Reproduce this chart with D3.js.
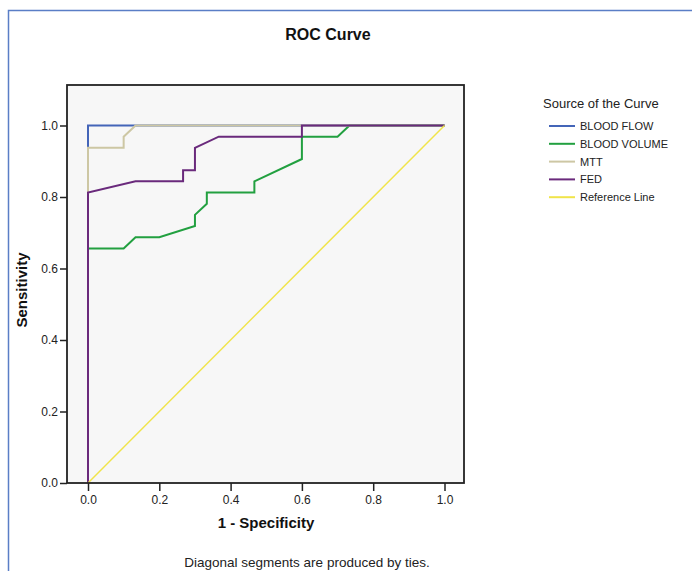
<!DOCTYPE html>
<html><head><meta charset="utf-8">
<script src="https://cdn.jsdelivr.net/npm/d3@7/dist/d3.min.js"></script>
<style>body{margin:0;background:#fff;}svg{display:block;font-family:"Liberation Sans",Arial,sans-serif;}</style>
</head><body>
<svg id="c" width="692" height="571"></svg>
<script>
const seriesNames = ["BLOOD FLOW","BLOOD VOLUME","MTT","FED"];
const seriesColors = ["#4465b8","#22a040","#cdc7a4","#6a2a7c"];
const refColor = "#f0e44a";
const bloodFlow = [[0,0],[0,1],[1,1]];
const bloodVolume = [[0,0],[0,0.65625],[0.1,0.65625],[0.1333,0.6875],[0.2,0.6875],[0.3,0.71875],[0.3,0.75],[0.3333,0.78125],[0.3333,0.8125],[0.4667,0.8125],[0.4667,0.84375],[0.6,0.90625],[0.6,0.96875],[0.7,0.96875],[0.7333,1],[1,1]];
const mtt = [[0,0],[0,0.9375],[0.1,0.9375],[0.1,0.96875],[0.1333,1],[1,1]];
const fed = [[0,0],[0,0.8125],[0.1333,0.84375],[0.2667,0.84375],[0.2667,0.875],[0.3,0.875],[0.3,0.9375],[0.3667,0.96875],[0.6,0.96875],[0.6,1],[1,1]];
const refLine = [[0,0],[1,1]];
const tickValues = [0,0.2,0.4,0.6,0.8,1.0];

const svg = d3.select("#c");
svg.append("rect").attr("x",8.5).attr("y",10.5).attr("width",700).attr("height",600)
  .attr("fill","none").attr("stroke","#5a7ec6").attr("stroke-width",1.5);

const x = d3.scaleLinear().domain([0,1]).range([88,444.5]);
const y = d3.scaleLinear().domain([0,1]).range([483,125.5]);
const L=67, R=464, T=85, B=483;

svg.append("rect").attr("x",L).attr("y",T).attr("width",R-L).attr("height",B-T).attr("fill","#f7f7f7");

const line = d3.line().x(d=>x(d[0])).y(d=>y(d[1]));
const all = [bloodFlow,bloodVolume,mtt,fed];
all.forEach((s,i)=>{
  svg.append("path").attr("d",line(s)).attr("fill","none").attr("stroke",seriesColors[i])
    .attr("stroke-width",2).attr("stroke-linejoin","miter");
});
svg.append("path").attr("d",line(refLine)).attr("fill","none").attr("stroke",refColor).attr("stroke-width",1.5);

svg.append("rect").attr("x",L).attr("y",T).attr("width",R-L).attr("height",B-T)
  .attr("fill","none").attr("stroke","#222").attr("stroke-width",1.8);

const ya = svg.append("g").attr("transform",`translate(${L},0)`)
  .call(d3.axisLeft(y).tickValues(tickValues).tickFormat(d3.format(".1f")).tickSize(7).tickPadding(2).tickSizeOuter(0));
ya.select(".domain").remove();
ya.selectAll("line").attr("stroke","#222").attr("stroke-width",1.5);
ya.selectAll("text").attr("font-size",12).attr("fill","#222").attr("font-family","Liberation Sans, Arial");

const xa = svg.append("g").attr("transform",`translate(0,${B})`)
  .call(d3.axisBottom(x).tickValues(tickValues).tickFormat(d3.format(".1f")).tickSize(8).tickPadding(4).tickSizeOuter(0));
xa.select(".domain").remove();
xa.selectAll("line").attr("stroke","#222").attr("stroke-width",1.5);
xa.selectAll("text").attr("font-size",12).attr("fill","#222").attr("font-family","Liberation Sans, Arial");

svg.append("text").attr("x",328).attr("y",40).attr("text-anchor","middle")
  .attr("font-size",16).attr("font-weight","bold").attr("fill","#111").text("ROC Curve");
svg.append("text").attr("transform","translate(27,290) rotate(-90)").attr("text-anchor","middle")
  .attr("font-size",15).attr("font-weight","bold").attr("fill","#111").text("Sensitivity");
svg.append("text").attr("x",266).attr("y",528).attr("text-anchor","middle")
  .attr("font-size",15).attr("font-weight","bold").attr("fill","#111").text("1 - Specificity");
svg.append("text").attr("x",307).attr("y",567).attr("text-anchor","middle")
  .attr("font-size",13.5).attr("fill","#222").text("Diagonal segments are produced by ties.");

svg.append("text").attr("x",543).attr("y",108).attr("font-size",13).attr("fill","#222").text("Source of the Curve");
const legNames = seriesNames.concat(["Reference Line"]);
const legColors = seriesColors.concat([refColor]);
legNames.forEach((n,i)=>{
  const yy = 126 + i*17.8;
  svg.append("line").attr("x1",549).attr("x2",575).attr("y1",yy).attr("y2",yy)
    .attr("stroke",legColors[i]).attr("stroke-width",2);
  svg.append("text").attr("x",580).attr("y",yy+4).attr("font-size",11).attr("fill","#222").text(n);
});
</script>
</body></html>
